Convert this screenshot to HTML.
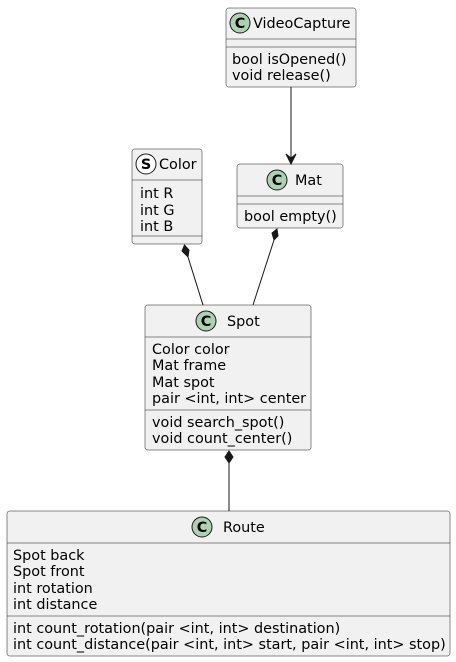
<!DOCTYPE html>
<html><head><style>html,body{margin:0;padding:0;background:#fff}svg{display:block}text{font-family:"DejaVu Sans",sans-serif;font-size:14.4px;fill:#000}</style></head>
<body>
<svg width="456" height="662" viewBox="0 0 456 662" xmlns="http://www.w3.org/2000/svg">
<g fill="#F1F1F1" stroke="#181818" stroke-width="0.5">
<rect x="226" y="8" width="130" height="79" rx="2.5"/>
<rect x="132" y="149" width="70" height="95" rx="2.5"/>
<rect x="237" y="164" width="106" height="64" rx="2.5"/>
<rect x="145" y="305" width="166" height="145" rx="2.5"/>
<rect x="7" y="511" width="443" height="145" rx="2.5"/>
</g>
<g stroke="#181818" stroke-width="0.5">
<line x1="226" y1="39" x2="356" y2="39"/><line x1="226" y1="47" x2="356" y2="47"/>
<line x1="132" y1="180" x2="202" y2="180"/><line x1="132" y1="236" x2="202" y2="236"/>
<line x1="237" y1="196" x2="343" y2="196"/><line x1="237" y1="204" x2="343" y2="204"/>
<line x1="145" y1="337" x2="311" y2="337"/><line x1="145" y1="410" x2="311" y2="410"/>
<line x1="7" y1="543" x2="450" y2="543"/><line x1="7" y1="616" x2="450" y2="616"/>
</g>
<g stroke="#181818" stroke-width="1">
<circle cx="240" cy="23" r="10" fill="#ADD1B2"/>
<circle cx="146" cy="164" r="10" fill="#fff"/>
<circle cx="277" cy="180" r="10" fill="#ADD1B2"/>
<circle cx="206" cy="321" r="10" fill="#ADD1B2"/>
<circle cx="202" cy="527" r="10" fill="#ADD1B2"/>
</g>
<g style="font-weight:bold;font-size:13px" text-anchor="middle">
<text x="240" y="28">C</text><text x="146" y="169">S</text><text x="277" y="185">C</text><text x="206" y="326">C</text><text x="202" y="532">C</text>
</g>
<text x="253" y="28">VideoCapture</text>
<text x="232" y="64">bool isOpened()</text>
<text x="232" y="80">void release()</text>
<text x="159" y="169">Color</text>
<text x="140" y="198">int R</text><text x="140" y="215">int G</text><text x="140" y="231">int B</text>
<text x="295" y="185">Mat</text>
<text x="244" y="221">bool empty()</text>
<text x="227" y="326">Spot</text>
<text x="152" y="354">Color color</text><text x="152" y="370">Mat frame</text><text x="152" y="387">Mat spot</text><text x="152" y="403">pair &lt;int, int&gt; center</text>
<text x="152" y="427">void search_spot()</text><text x="152" y="443">void count_center()</text>
<text x="223" y="532">Route</text>
<text x="13" y="560">Spot back</text><text x="13" y="576">Spot front</text><text x="13" y="593">int rotation</text><text x="13" y="609">int distance</text>
<text x="13" y="633">int count_rotation(pair &lt;int, int&gt; destination)</text>
<text x="13" y="649">int count_distance(pair &lt;int, int&gt; start, pair &lt;int, int&gt; stop)</text>
<g stroke="#181818" stroke-width="1" fill="#181818">
<line x1="291" y1="87" x2="291" y2="162"/>
<path d="M291,164 L286,154 L291,158 L296,154 Z"/>
<line x1="188" y1="257" x2="203" y2="305"/>
<path d="M184.5,245 L182,251 L188,257 L189,250 Z"/>
<line x1="274" y1="240" x2="253" y2="305"/>
<path d="M277,229 L272,233 L274,240 L278,236 Z"/>
<line x1="229" y1="463" x2="229" y2="511"/>
<path d="M229,451 L225,457 L229,463 L233,457 Z"/>
</g>
</svg>
</body></html>
